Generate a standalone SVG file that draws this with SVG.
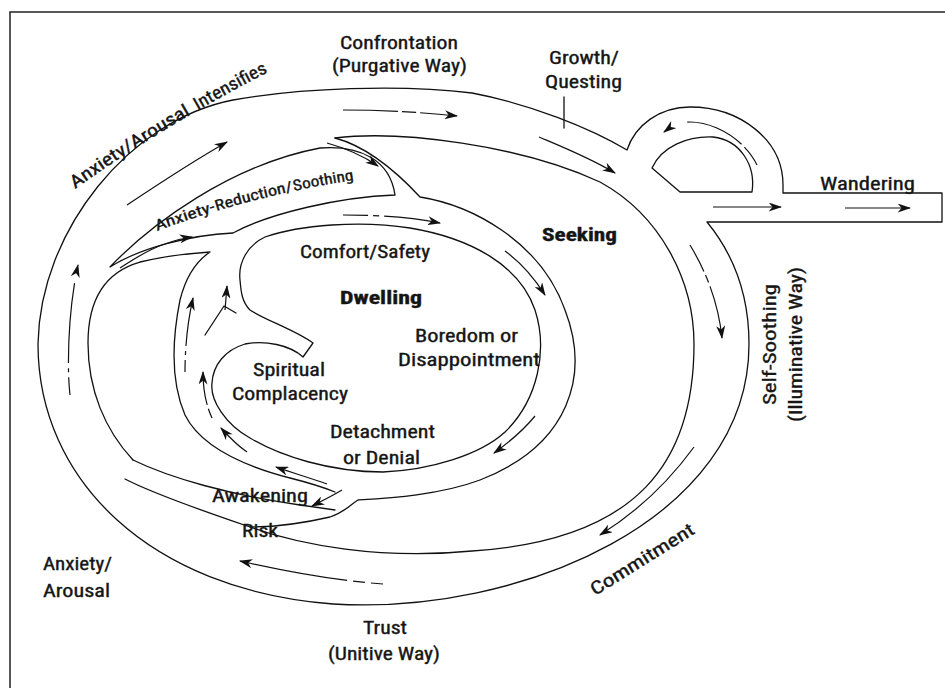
<svg xmlns="http://www.w3.org/2000/svg" width="945" height="688" viewBox="0 0 945 688">
<style>
.ln{fill:none;stroke:#111;stroke-width:1.3;stroke-linejoin:round;stroke-linecap:round}
.ar{fill:none;stroke:#111;stroke-width:1.2;marker-end:url(#ah)}
.t{font-family:"Liberation Sans Narrow","Roboto Condensed","Liberation Sans",Arial,sans-serif;font-size:18px;fill:#151515;stroke:#151515;stroke-width:0.35}
.b{font-weight:bold}
</style>
<defs>
<marker id="ah" viewBox="0 0 12 8" markerWidth="14" markerHeight="9" refX="11" refY="4" orient="auto" markerUnits="userSpaceOnUse">
<path d="M0,0 L12,4 L0,8 L3.5,4 Z" fill="#111"/>
</marker>
<path id="p-intens" d="M 75,189 Q 165,125 272,70"/>
<path id="p-reduc" d="M 157,231 Q 253,195 360,179"/>
</defs>
<rect width="945" height="688" fill="#fff"/>
<g id="frame">
<path d="M 10,688 L 10,12 L 945,12" fill="none" stroke="#222" stroke-width="1.5"/>
</g>
<g id="outer-band">
<path class="ln" d="M 627,150 C 590,128 530,104 472,93 C 400,84 300,88 233,100 C 130,120 40,230 38,344 C 38,480 150,590 333,604 C 520,615 749,520 749,344 C 749,290 730,250 707,222 L 942,222 L 942,193 L 783,193 L 783,185 C 783,140 740,107 690,107 C 660,107 635,125 627,150 Z"/>
<path class="ln" d="M 335,138 C 400,130 520,145 600,182 C 660,215 694,280 694,344 C 694,460 640,540 472,551 C 380,560 300,545 250,527 C 200,510 150,492 125,479"/>
<path class="ln" d="M 652,168 C 662,146 688,136 713,137 C 740,140 756,165 752,192 L 680,192 Z"/>
</g>
<g id="island">
<path class="ln" d="M 110,267 C 150,225 230,165 320,148 C 360,145 390,160 395,195 C 340,197 270,213 233,233 C 190,235 140,248 110,267 Z"/>
</g>
<g id="dwelling-band">
<path class="ln" d="M 335,138 C 365,146 395,170 420,197 C 470,205 540,240 565,310 C 590,375 570,445 480,480 C 440,495 390,498 358,500 C 350,505 345,512 330,517 C 300,524 270,527 250,527"/>
<path class="ln" d="M 133,460 C 105,430 88,390 88,343 C 88,300 105,272 140,262 C 165,256 195,253 210,252 C 195,262 185,280 180,300 C 172,340 170,380 185,415 C 200,445 240,465 290,478 C 310,483 325,488 335,492"/>
<path class="ln" d="M 133,460 C 170,478 230,495 300,505 L 335,510"/>
<path class="ln" d="M 240,280 C 238,262 248,245 265,237 C 300,225 360,220 410,228 C 470,238 520,265 535,310 C 548,350 538,400 505,432 C 480,455 430,470 383,472 C 330,472 280,456 250,438 C 225,424 210,400 212,383 C 213,365 225,350 245,344 C 265,340 290,345 303,357 L 313,343 C 295,330 265,320 250,310 C 242,302 241,292 240,280 Z"/>
<path class="ln" d="M 205,335 L 224,306 L 236,313"/>
</g>
<g id="connectors">
<path class="ar" d="M 343,110 C 380,110 420,112 457,116" stroke-dasharray="55,4,14,4,40"/>
<path class="ar" d="M 127,205 C 160,183 195,160 227,142"/>
<path class="ar" d="M 539,137 C 565,148 590,158 615,173"/>
<path class="ar" d="M 327,143 C 345,148 362,155 378,166"/>
<path class="ar" d="M 120,268 C 140,255 160,242 192,237"/>
<path class="ar" d="M 343,215 C 380,215 410,217 440,223" stroke-dasharray="25,5,6,5,60"/>
<path class="ar" d="M 505,251 C 520,262 533,276 545,295"/>
<path class="ar" d="M 535,416 C 522,432 508,443 494,453"/>
<path class="ar" d="M 327,484 C 310,478 293,473 276,467"/>
<path class="ar" d="M 342,490 C 332,496 322,501 312,506"/>
<path class="ar" d="M 247,452 C 238,446 230,438 221,428"/>
<path class="ar" d="M 212,418 C 206,405 203,390 203,372" stroke-dasharray="10,4,40"/>
<path class="ar" d="M 185,372 C 185,345 188,320 193,298" stroke-dasharray="12,5,4,5,60"/>
<path class="ar" d="M 225,310 L 227,286"/>
<path class="ar" d="M 70,395 C 66,360 70,300 78,265" stroke-dasharray="18,5,4,5,80"/>
<path class="ar" d="M 383,584 C 330,580 280,570 240,561" stroke-dasharray="12,6,12,6,200"/>
<path class="ar" d="M 694,447 C 670,480 640,510 600,535"/>
<path class="ar" d="M 690,245 C 705,270 718,300 722,338" stroke-dasharray="30,4,8,4,60"/>
<path class="ar" d="M 757,165 C 745,140 715,122 690,122 C 680,122 672,126 664,132" stroke-dasharray="22,4,60"/>
<path class="ar" d="M 713,207 L 781,207"/>
<path class="ar" d="M 845,208 L 910,208"/>
<path class="ln" d="M 564,97 L 564,128"/>
</g>
<g id="node-confrontation">
<text class="t" x="340" y="49" textLength="118" lengthAdjust="spacingAndGlyphs">Confrontation</text>
<text class="t" x="332" y="72" textLength="135" lengthAdjust="spacingAndGlyphs">(Purgative Way)</text>
</g>
<g id="node-growth">
<text class="t" x="549" y="64" textLength="70" lengthAdjust="spacingAndGlyphs">Growth/</text>
<text class="t" x="545" y="88" textLength="77" lengthAdjust="spacingAndGlyphs">Questing</text>
</g>
<g id="node-wandering">
<text class="t" x="820" y="190" textLength="95" lengthAdjust="spacingAndGlyphs">Wandering</text>
</g>
<g id="node-seeking">
<text class="t b" x="542" y="241" textLength="75" lengthAdjust="spacingAndGlyphs">Seeking</text>
</g>
<g id="node-intensifies">
<text class="t"><textPath href="#p-intens" textLength="138" lengthAdjust="spacingAndGlyphs">Anxiety/Arousal</textPath></text>
<text class="t"><textPath href="#p-intens" startOffset="146" textLength="80" lengthAdjust="spacingAndGlyphs">Intensifies</textPath></text>
</g>
<g id="node-reduction">
<text class="t" style="font-size:15px"><textPath href="#p-reduc" textLength="62" lengthAdjust="spacingAndGlyphs">Anxiety-</textPath></text>
<text class="t" style="font-size:15px"><textPath href="#p-reduc" startOffset="63" textLength="79" lengthAdjust="spacingAndGlyphs">Reduction/</textPath></text>
<text class="t" style="font-size:15px"><textPath href="#p-reduc" startOffset="143" textLength="61" lengthAdjust="spacingAndGlyphs">Soothing</textPath></text>
</g>
<g id="node-comfort">
<text class="t" x="300" y="258" textLength="130" lengthAdjust="spacingAndGlyphs">Comfort/Safety</text>
</g>
<g id="node-dwelling">
<text class="t b" x="340" y="304" textLength="82" lengthAdjust="spacingAndGlyphs">Dwelling</text>
</g>
<g id="node-boredom">
<text class="t" x="415" y="342" textLength="103" lengthAdjust="spacingAndGlyphs">Boredom or</text>
<text class="t" x="398" y="366" textLength="142" lengthAdjust="spacingAndGlyphs">Disappointment</text>
</g>
<g id="node-complacency">
<text class="t" x="253" y="376" textLength="72" lengthAdjust="spacingAndGlyphs">Spiritual</text>
<text class="t" x="232" y="400" textLength="116" lengthAdjust="spacingAndGlyphs">Complacency</text>
</g>
<g id="node-detachment">
<text class="t" x="330" y="438" textLength="105" lengthAdjust="spacingAndGlyphs">Detachment</text>
<text class="t" x="343" y="464" textLength="77" lengthAdjust="spacingAndGlyphs">or Denial</text>
</g>
<g id="node-awakening">
<text class="t" x="212" y="502" textLength="96" lengthAdjust="spacingAndGlyphs">Awakening</text>
</g>
<g id="node-risk">
<text class="t" x="242" y="537" textLength="36" lengthAdjust="spacingAndGlyphs">Risk</text>
</g>
<g id="node-anxiety">
<text class="t" x="43" y="570" textLength="69" lengthAdjust="spacingAndGlyphs">Anxiety/</text>
<text class="t" x="43" y="597" textLength="67" lengthAdjust="spacingAndGlyphs">Arousal</text>
</g>
<g id="node-trust">
<text class="t" x="363" y="634" textLength="44" lengthAdjust="spacingAndGlyphs">Trust</text>
<text class="t" x="328" y="660" textLength="112" lengthAdjust="spacingAndGlyphs">(Unitive Way)</text>
</g>
<g id="node-commitment">
<text class="t" x="595" y="596" transform="rotate(-32 595 596)" textLength="119" lengthAdjust="spacingAndGlyphs">Commitment</text>
</g>
<g id="node-selfsoothing">
<text class="t" x="776" y="405" transform="rotate(-90 776 405)" textLength="121" lengthAdjust="spacingAndGlyphs">Self-Soothing</text>
<text class="t" x="802" y="422" transform="rotate(-90 802 422)" textLength="155" lengthAdjust="spacingAndGlyphs">(Illuminative Way)</text>
</g>
</svg>
